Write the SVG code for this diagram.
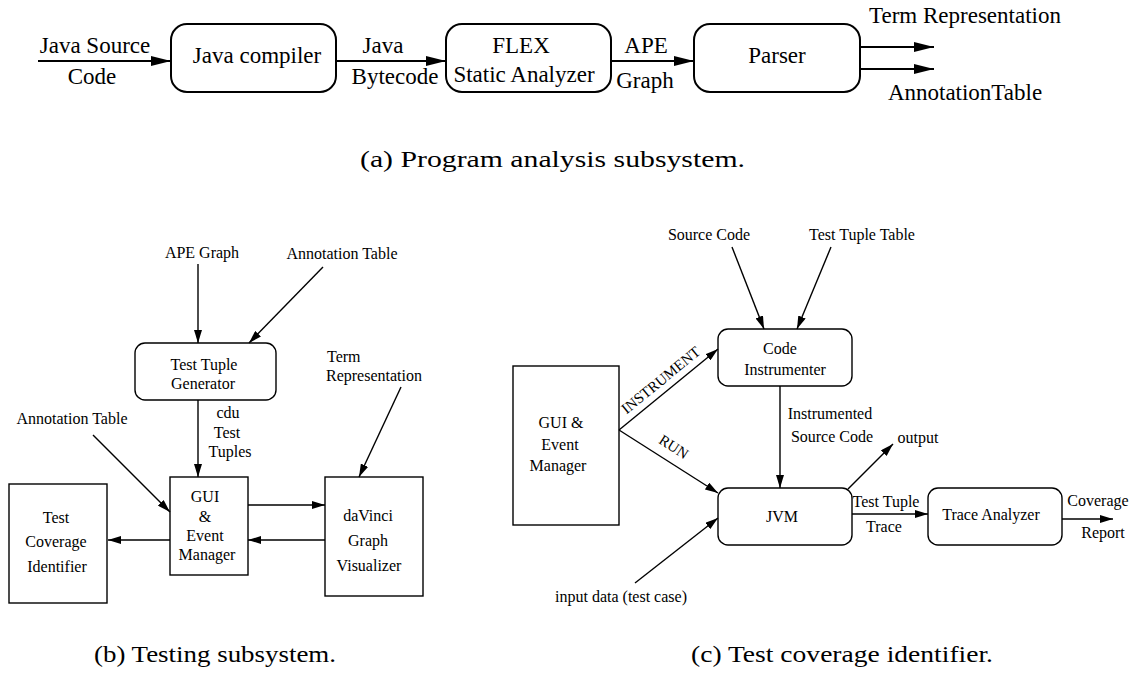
<svg xmlns="http://www.w3.org/2000/svg" width="1134" height="675" viewBox="0 0 1134 675">
<defs>
<marker id="ah" markerUnits="userSpaceOnUse" markerWidth="20" markerHeight="10" refX="20" refY="5" orient="auto"><path d="M0,0 L20,5 L0,10 z" fill="#000"/></marker>
<marker id="as" markerUnits="userSpaceOnUse" markerWidth="13" markerHeight="8" refX="13" refY="4" orient="auto"><path d="M0,0 L13,4 L0,8 z" fill="#000"/></marker>
</defs>
<style>
text{font-family:"Liberation Serif","Times New Roman",serif;fill:#000}
.ta{font-size:23px;text-anchor:middle}
.tb{font-size:16px;text-anchor:middle}
.cap{font-size:24px}
.boxa{fill:none;stroke:#000;stroke-width:2}
.boxb{fill:none;stroke:#000;stroke-width:1.4}
.ca{stroke:#000;stroke-width:2;fill:none;marker-end:url(#ah)}
.cb{stroke:#000;stroke-width:1.4;fill:none;marker-end:url(#as)}
</style>

<!-- (a) Program analysis subsystem -->
<g id="java-compiler"><rect class="boxa" x="171" y="24" width="165" height="68" rx="16"/><text class="ta" x="257" y="63">Java compiler</text></g>
<g id="flex"><rect class="boxa" x="446" y="24" width="165" height="68" rx="16"/><text class="ta" x="521" y="53">FLEX</text><text class="ta" x="524" y="82">Static Analyzer</text></g>
<g id="parser"><rect class="boxa" x="694" y="24" width="166" height="68" rx="16"/><text class="ta" x="777" y="63">Parser</text></g>

<!-- (b) Testing subsystem -->
<g id="ttg"><rect class="boxb" x="135" y="343" width="141" height="57" rx="10"/><text class="tb" x="204" y="370">Test Tuple</text><text class="tb" x="203" y="389">Generator</text></g>
<g id="gui-b"><rect class="boxb" x="170" y="477" width="78" height="98"/><text class="tb" x="205" y="502">GUI</text><text class="tb" x="205" y="522">&amp;</text><text class="tb" x="205" y="541">Event</text><text class="tb" x="207" y="560">Manager</text></g>
<g id="davinci"><rect class="boxb" x="325" y="477" width="98" height="119"/><text class="tb" x="368" y="521">daVinci</text><text class="tb" x="368" y="546">Graph</text><text class="tb" x="369" y="571">Visualizer</text></g>
<g id="tci"><rect class="boxb" x="9" y="484" width="98" height="119"/><text class="tb" x="56" y="523">Test</text><text class="tb" x="56" y="547">Coverage</text><text class="tb" x="57" y="572">Identifier</text></g>

<!-- (c) Test coverage identifier -->
<g id="code-instr"><rect class="boxb" x="718" y="329" width="134" height="57" rx="10"/><text class="tb" x="780" y="354">Code</text><text class="tb" x="785" y="375">Instrumenter</text></g>
<g id="gui-c"><rect class="boxb" x="513" y="366" width="106" height="159"/><text class="tb" x="561" y="428">GUI &amp;</text><text class="tb" x="560" y="450">Event</text><text class="tb" x="558" y="471">Manager</text></g>
<g id="jvm"><rect class="boxb" x="718" y="488" width="134" height="57" rx="10"/><text class="tb" x="782" y="522">JVM</text></g>
<g id="trace-analyzer"><rect class="boxb" x="928" y="488" width="134" height="57" rx="10"/><text class="tb" x="991" y="520">Trace Analyzer</text></g>

<g id="connectors">
  <!-- (a) -->
  <line class="ca" x1="38" y1="61" x2="171" y2="61"/>
  <line class="ca" x1="336" y1="61" x2="446" y2="61"/>
  <line class="ca" x1="611" y1="61" x2="694" y2="61"/>
  <line class="ca" x1="860" y1="47" x2="934" y2="47"/>
  <line class="ca" x1="860" y1="69" x2="934" y2="69"/>
  <!-- (b) -->
  <line class="cb" x1="198" y1="264" x2="198" y2="343"/>
  <line class="cb" x1="323" y1="267" x2="249" y2="343"/>
  <line class="cb" x1="198" y1="400" x2="198" y2="477"/>
  <line class="cb" x1="401" y1="387" x2="359" y2="477"/>
  <line class="cb" x1="93" y1="435" x2="170" y2="512"/>
  <line class="cb" x1="248" y1="505" x2="325" y2="505"/>
  <line class="cb" x1="325" y1="540" x2="248" y2="540"/>
  <line class="cb" x1="170" y1="540" x2="108" y2="540"/>
  <!-- (c) -->
  <line class="cb" x1="732" y1="247" x2="764" y2="329"/>
  <line class="cb" x1="831" y1="247" x2="797" y2="329"/>
  <line class="cb" x1="619" y1="430" x2="718" y2="349"/>
  <line class="cb" x1="619" y1="430" x2="718" y2="493"/>
  <line class="cb" x1="780" y1="386" x2="780" y2="488"/>
  <line class="cb" x1="848" y1="489" x2="893" y2="444"/>
  <line class="cb" x1="635" y1="583" x2="718" y2="518"/>
  <line class="cb" x1="852" y1="514" x2="928" y2="514"/>
  <line class="cb" x1="1062" y1="519" x2="1113" y2="519"/>
</g>

<g id="labels">
  <!-- (a) -->
  <text class="ta" x="95" y="53">Java Source</text>
  <text class="ta" x="92" y="84">Code</text>
  <text class="ta" x="383" y="53">Java</text>
  <text class="ta" x="395" y="84">Bytecode</text>
  <text class="ta" x="646" y="53">APE</text>
  <text class="ta" x="645" y="88">Graph</text>
  <text class="ta" x="965" y="23">Term Representation</text>
  <text class="ta" x="965" y="100">AnnotationTable</text>
  <text class="cap" x="360" y="167" textLength="385" lengthAdjust="spacingAndGlyphs">(a) Program analysis subsystem.</text>
  <!-- (b) -->
  <text class="tb" x="202" y="258">APE Graph</text>
  <text class="tb" x="342" y="259">Annotation Table</text>
  <text class="tb" x="327" y="362" style="text-anchor:start">Term</text>
  <text class="tb" x="326" y="381" style="text-anchor:start">Representation</text>
  <text class="tb" x="228" y="418">cdu</text>
  <text class="tb" x="227" y="438">Test</text>
  <text class="tb" x="230" y="457">Tuples</text>
  <text class="tb" x="72" y="424">Annotation Table</text>
  <text class="cap" x="94" y="662" textLength="242" lengthAdjust="spacingAndGlyphs">(b) Testing subsystem.</text>
  <!-- (c) -->
  <text class="tb" x="709" y="240">Source Code</text>
  <text class="tb" x="862" y="240">Test Tuple Table</text>
  <text class="tb" x="830" y="419">Instrumented</text>
  <text class="tb" x="832" y="442">Source Code</text>
  <text class="tb" x="918" y="443">output</text>
  <text class="tb" x="886" y="507">Test Tuple</text>
  <text class="tb" x="884" y="532">Trace</text>
  <text class="tb" x="1098" y="506">Coverage</text>
  <text class="tb" x="1103" y="538">Report</text>
  <text class="tb" x="621" y="602">input data (test case)</text>
  <text class="tb" x="0" y="0" style="font-size:15px" transform="translate(664,384) rotate(-39.3)">INSTRUMENT</text>
  <text class="tb" x="0" y="0" style="font-size:15px" transform="translate(671,451) rotate(33)">RUN</text>
  <text class="cap" x="691" y="662" textLength="302" lengthAdjust="spacingAndGlyphs">(c) Test coverage identifier.</text>
</g>
</svg>
